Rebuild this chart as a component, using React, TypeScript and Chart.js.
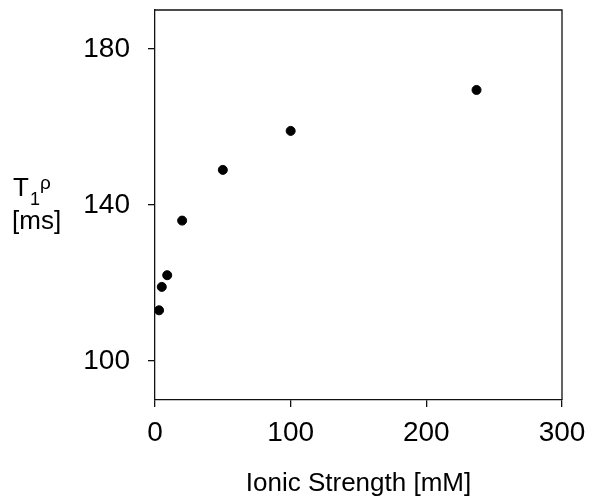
import React, { useEffect, useRef } from "react";
import { Chart, registerables } from "chart.js";

Chart.register(...registerables);

const ionicStrength = [3, 5, 9, 20, 50, 100, 237];
const t1rho = [113, 119, 122, 136, 149, 159, 169.5];
const yTickValues = [100, 140, 180];
const xTitle = "Ionic Strength [mM]";
const yLabelMain = "T";
const yLabelSub = "1";
const yLabelSup = "ρ";
const yLabelUnit = "[ms]";

const FONT = "'Liberation Sans', Arial, Helvetica, sans-serif";

const framePlugin = {
  id: "frameAndLabel",
  afterDraw(chart: any) {
    const { ctx, chartArea } = chart;
    ctx.save();
    ctx.strokeStyle = "#111";
    ctx.lineWidth = 1.3;
    ctx.beginPath();
    ctx.moveTo(chartArea.left, chartArea.top);
    ctx.lineTo(chartArea.right, chartArea.top);
    ctx.lineTo(chartArea.right, chartArea.bottom);
    ctx.stroke();
    ctx.fillStyle = "#000";
    ctx.textBaseline = "alphabetic";
    ctx.textAlign = "left";
    ctx.font = `26px ${FONT}`;
    ctx.fillText(yLabelMain, 13, 196);
    ctx.font = `18px ${FONT}`;
    ctx.fillText(yLabelSub, 30, 205);
    ctx.font = `19px ${FONT}`;
    ctx.fillText(yLabelSup, 40, 189);
    ctx.font = `26px ${FONT}`;
    ctx.fillText(yLabelUnit, 12, 229);
    ctx.restore();
  },
};

export default function App() {
  const ref = useRef<HTMLCanvasElement | null>(null);
  useEffect(() => {
    if (!ref.current) return;
    const chart = new Chart(ref.current, {
      type: "scatter",
      data: {
        datasets: [
          {
            data: ionicStrength.map((x, i) => ({ x, y: t1rho[i] })),
            backgroundColor: "#000",
            borderColor: "#000",
            pointRadius: 4.5,
            pointHoverRadius: 4.5,
          },
        ],
      },
      options: {
        animation: false,
        responsive: true,
        maintainAspectRatio: false,
        layout: { padding: { left: 0, right: 33, top: 10, bottom: 0 } },
        plugins: { legend: { display: false }, tooltip: { enabled: false } },
        scales: {
          x: {
            type: "linear",
            min: 0,
            max: 300,
            ticks: { stepSize: 100, color: "#000", font: { size: 28, family: FONT }, padding: 9, maxRotation: 0 },
            grid: { drawOnChartArea: false, tickLength: 7, color: "#111", lineWidth: 1.3 },
            border: { display: true, color: "#111", width: 1.3 },
            title: { display: true, text: xTitle, color: "#000", font: { size: 26, family: FONT }, padding: { top: 10, bottom: 0 } },
            afterFit: (s: any) => {
              s.height = 99;
              s.paddingLeft = 0;
              s.paddingRight = 0;
            },
          },
          y: {
            type: "linear",
            min: 90,
            max: 190,
            afterBuildTicks: (s: any) => { s.ticks = yTickValues.map((v) => ({ value: v })); },
            ticks: { color: "#000", font: { size: 28, family: FONT }, padding: 18 },
            grid: { drawOnChartArea: false, tickLength: 7, color: "#111", lineWidth: 1.3 },
            border: { display: true, color: "#111", width: 1.3 },
            afterFit: (s: any) => {
              s.width = 155;
              s.paddingTop = 0;
              s.paddingBottom = 0;
            },
          },
        },
      },
      plugins: [framePlugin],
    });
    return () => chart.destroy();
  }, []);
  return (
    <div style={{ position: "fixed", left: 0, top: 0, width: 595, height: 499, background: "#fff" }}>
      <canvas ref={ref} />
    </div>
  );
}
